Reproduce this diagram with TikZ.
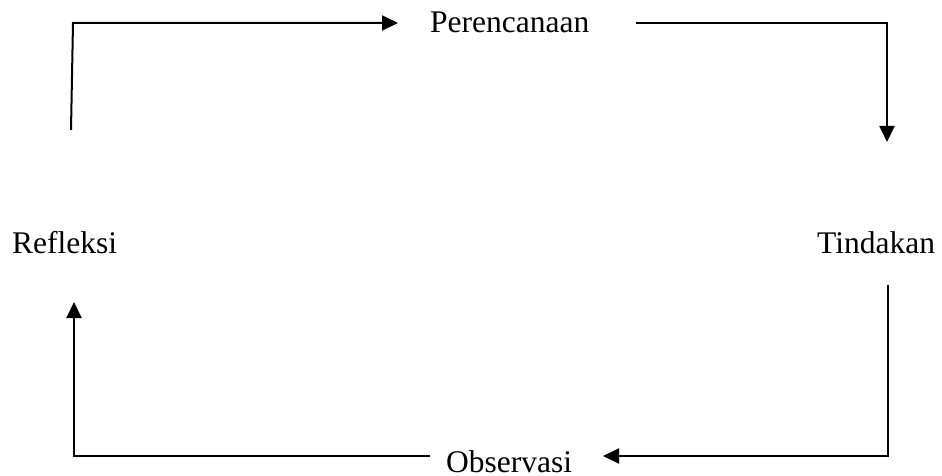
\documentclass[tikz,border=0pt]{standalone}
\usepackage{fontspec}
\setmainfont{Liberation Serif}
\usetikzlibrary{arrows.meta}
\tikzset{
  lbl/.style={inner sep=0pt, anchor=base west, font=\fontsize{31.5}{38}\selectfont},
  conn/.style={line width=2pt, -{Triangle[length=16pt,width=15pt]}}
}
\begin{document}
\begin{tikzpicture}[x=1pt,y=-1pt]
\useasboundingbox (0,0) rectangle (942,476);
\node[lbl] (plan) at (430,33) {Perencanaan};
\node[lbl] (refl) at (12,253) {Refleksi};
\node[lbl] (tind) at (817,253) {Tindakan};
\node[lbl] (obs) at (446,472) {Observasi};
% free ends and corners
\coordinate (a0) at (71,130);
\coordinate (a1) at (73,23);
\coordinate (a2) at (398,23);
\coordinate (b0) at (636,23);
\coordinate (b1) at (887,23);
\coordinate (b2) at (887,142);
\coordinate (c0) at (888,285);
\coordinate (c1) at (888,456);
\coordinate (c2) at (603,456);
\coordinate (d0) at (430,456);
\coordinate (d1) at (74,456);
\coordinate (d2) at (74,302);
\draw[conn] (a0) -- (a1) -- (a2);
\draw[conn] (b0) -- (b1) -- (b2);
\draw[conn] (c0) -- (c1) -- (c2);
\draw[conn] (d0) -- (d1) -- (d2);
\end{tikzpicture}
\end{document}
